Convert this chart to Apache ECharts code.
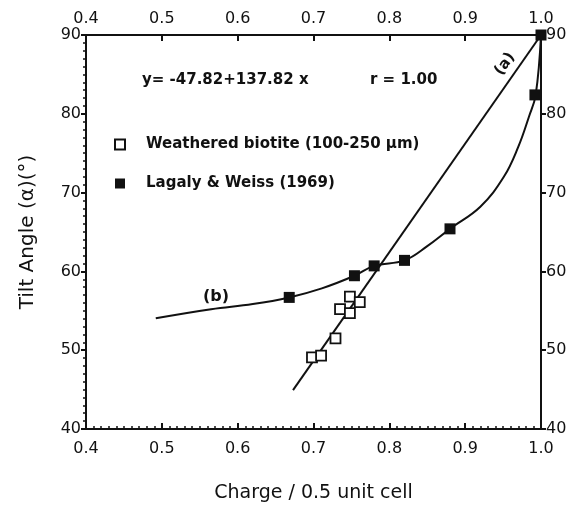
<!DOCTYPE html>
<html>
<head>
<meta charset="utf-8">
<script src="https://cdn.jsdelivr.net/npm/echarts@6/dist/echarts.min.js"></script>
<style>
  html, body { margin: 0; padding: 0; background: #fff; }
  #chart { width: 576px; height: 511px; }
</style>
</head>
<body>
<div id="chart"></div>
<script>
    // weathered biotite (open squares)
    var biotiteX = [0.698, 0.710, 0.729, 0.735, 0.748, 0.748, 0.761];
    var biotiteY = [49.1, 49.3, 51.5, 55.2, 54.7, 56.8, 56.1];

    // Lagaly & Weiss (1969) (filled squares)
    var lagalyX = [0.668, 0.754, 0.780, 0.820, 0.880, 0.992, 1.000];
    var lagalyY = [56.7, 59.45, 60.7, 61.4, 65.4, 82.4, 90.0];

    // curve (b)
    var curveX = [0.492, 0.565, 0.620, 0.668, 0.711, 0.754, 0.780, 0.820, 0.850, 0.880, 0.920, 0.951, 0.970, 0.984, 0.993, 1.000];
    var curveY = [54.05, 55.2, 55.85, 56.7, 57.85, 59.45, 60.7, 61.4, 63.2, 65.4, 68.2, 72.0, 75.8, 79.6, 82.4, 90.0];

    // line (a): y = -47.82 + 137.82 x
    var fitX = [0.673, 1.000];
    var fitY = [-47.82 + 137.82 * 0.673, -47.82 + 137.82 * 1.000];

    function pairs(xs, ys) {
        var out = [];
        for (var i = 0; i < xs.length; i++) {
            out.push([xs[i], ys[i]]);
        }
        return out;
    }

    var font = 'DejaVu Sans';
    var ink = '#111';

    function xAxis(pos, margin, minor) {
        return {
            type: 'value', position: pos, min: 0.4, max: 1.0, interval: 0.1,
            axisLine: { show: true, onZero: false, lineStyle: { color: ink, width: 2 } },
            axisTick: { show: true, inside: true, length: 6, lineStyle: { color: ink, width: 2 } },
            minorTick: { show: minor, splitNumber: 10, length: 3, lineStyle: { color: ink, width: 1.5 } },
            splitLine: { show: false },
            axisLabel: {
                margin: margin, color: ink, fontFamily: font, fontSize: 16,
                formatter: function (v) { return v.toFixed(1); }
            }
        };
    }

    function yAxis(pos, margin, minor) {
        return {
            type: 'value', position: pos, min: 40, max: 90, interval: 10,
            axisLine: { show: true, onZero: false, lineStyle: { color: ink, width: 2 } },
            axisTick: { show: true, inside: false, length: 5, lineStyle: { color: ink, width: 2 } },
            minorTick: { show: minor, splitNumber: 10, length: 3, lineStyle: { color: ink, width: 1.5 } },
            splitLine: { show: false },
            axisLabel: { margin: margin, color: ink, fontFamily: font, fontSize: 16 }
        };
    }

    var xBottom = xAxis('bottom', 12, true);
    xBottom.name = 'Charge / 0.5 unit cell';
    xBottom.nameLocation = 'middle';
    xBottom.nameGap = 55;
    xBottom.nameTextStyle = { color: ink, fontFamily: font, fontSize: 19 };

    var yLeft = yAxis('left', 5, true);
    yLeft.name = 'Tilt Angle (α)(°)';
    yLeft.nameLocation = 'middle';
    yLeft.nameGap = 48;
    yLeft.nameTextStyle = { color: ink, fontFamily: font, fontSize: 20 };

    var chart = echarts.init(document.getElementById('chart'));
    chart.setOption({
        animation: false,
        backgroundColor: '#fff',
        grid: { left: 86, right: 35, top: 35, bottom: 82 },
        xAxis: [xBottom, xAxis('top', 8, false)],
        yAxis: [yLeft, yAxis('right', 5, false)],
        legend: {
            orient: 'vertical', left: 109, top: 132,
            itemWidth: 10, itemHeight: 10, itemGap: 24,
            textStyle: { color: ink, fontFamily: font, fontSize: 15, fontWeight: 'bold', padding: [0, 0, 0, 16] },
            data: ['Weathered biotite (100-250 µm)', 'Lagaly & Weiss (1969)']
        },
        graphic: [
            { type: 'text', left: 142, top: 73,
              style: { text: 'y= -47.82+137.82 x', fill: ink, font: 'bold 15px "DejaVu Sans"' } },
            { type: 'text', left: 370, top: 73,
              style: { text: 'r = 1.00', fill: ink, font: 'bold 15px "DejaVu Sans"' } },
            { type: 'text', left: 203, top: 289,
              style: { text: '(b)', fill: ink, font: 'bold 16px "DejaVu Sans"' } },
            { type: 'text', x: 505, y: 64, rotation: 55 * Math.PI / 180,
              style: { text: '(a)', fill: ink, font: 'bold 15px "DejaVu Sans"', align: 'center', verticalAlign: 'middle' } }
        ],
        series: [
            {
                name: 'fit (a)', type: 'line', data: pairs(fitX, fitY),
                showSymbol: false, symbol: 'none',
                lineStyle: { color: ink, width: 2 }, z: 2
            },
            {
                name: 'curve (b)', type: 'line', data: pairs(curveX, curveY),
                smooth: 0.4, showSymbol: false, symbol: 'none',
                lineStyle: { color: ink, width: 2 }, z: 2
            },
            {
                name: 'Weathered biotite (100-250 µm)', type: 'scatter',
                data: pairs(biotiteX, biotiteY),
                symbol: 'rect', symbolSize: 10,
                itemStyle: { color: '#fff', borderColor: ink, borderWidth: 1.8, opacity: 1 }, z: 3
            },
            {
                name: 'Lagaly & Weiss (1969)', type: 'scatter',
                data: pairs(lagalyX, lagalyY),
                symbol: 'rect', symbolSize: 11,
                itemStyle: { color: ink, opacity: 1 }, z: 4
            }
        ]
    });
</script>
</body>
</html>
